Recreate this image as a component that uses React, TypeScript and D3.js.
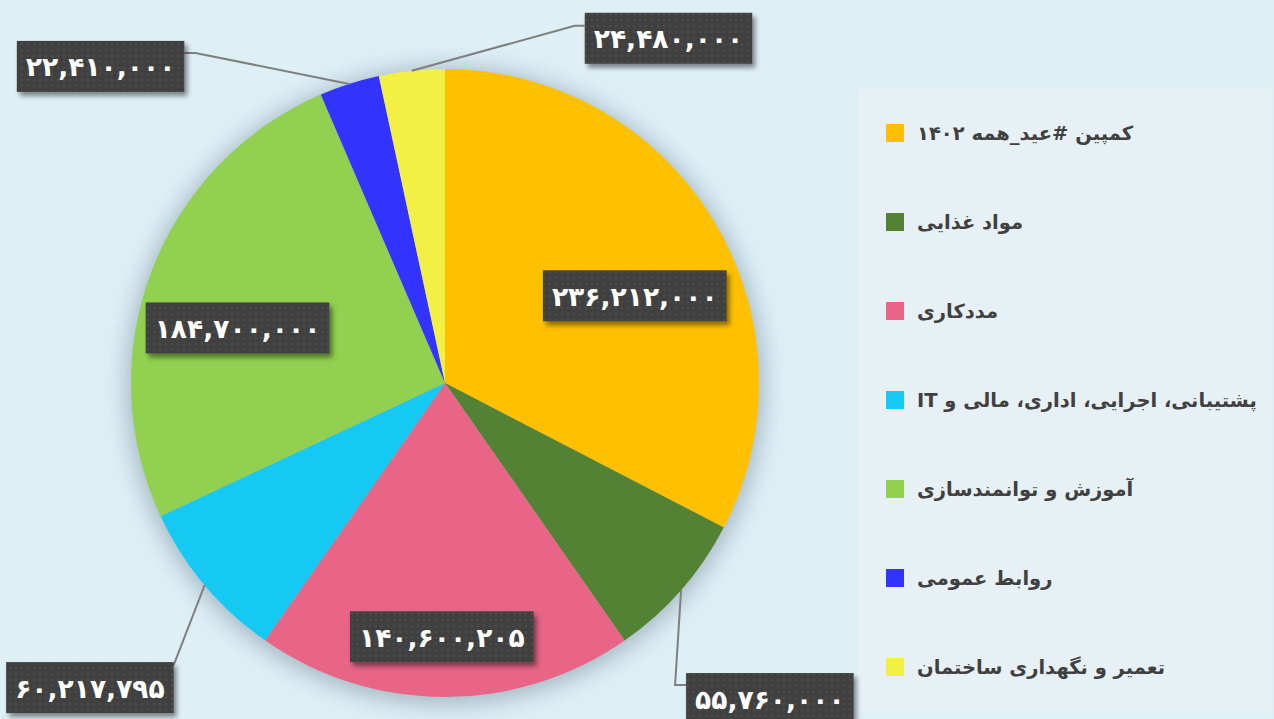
import * as d3 from 'd3'
import { useLayoutEffect, useRef, useState } from 'react'

const width = 1274
const height = 719

// slices, clockwise from 12 o'clock
const categories = [
  'کمپین #عید_همه ۱۴۰۲',
  'مواد غذایی',
  'مددکاری',
  'پشتیبانی، اجرایی، اداری، مالی و IT',
  'آموزش و توانمندسازی',
  'روابط عمومی',
  'تعمیر و نگهداری ساختمان'
]
const amounts = [236212000, 55760000, 140600205, 60217795, 184700000, 22410000, 24480000]
const colors = ['#FFC000', '#548235', '#E86588', '#16C9F2', '#92D050', '#3333FF', '#F2F044']

const persian = d3.formatLocale({
  decimal: '.',
  thousands: ',',
  grouping: [3],
  currency: ['', ''],
  numerals: ['۰', '۱', '۲', '۳', '۴', '۵', '۶', '۷', '۸', '۹']
})
const fmt = persian.format(',')

const cx = 445
const cy = 383
const radius = 314

// where each value label goes: inside labels shift from the 0.7r centroid,
// outside labels hang off the rim with a leader line
const labelPlacement = [
  { inside: true, shift: [2, 27] },
  { inside: false, elbow: [-6, 95], end: [5, 95], side: 'left', top: 83 },
  { inside: true, shift: [-3, 34] },
  { inside: false, end: [-31, 80], side: 'right', top: 77 },
  { inside: true, shift: [-2, 23] },
  { inside: false, elbow: [-154, -31], end: [-165, -31], side: 'right', top: -43 },
  { inside: false, elbow: [163, -45], end: [173, -45], side: 'left', top: -58 }
]

const boxH = 51
const labelFont = 'DejaVu Sans, sans-serif'

function App() {
  const textRefs = useRef<(SVGTextElement | null)[]>([])
  const [widths, setWidths] = useState<number[]>(amounts.map(() => 150))

  useLayoutEffect(() => {
    setWidths(textRefs.current.map(t => (t ? t.getComputedTextLength() : 150)))
  }, [])

  const pie = d3.pie<number>().sort(null).value(d => d)
  const arcs = pie(amounts)
  const arcGen = d3.arc<d3.PieArcDatum<number>>().innerRadius(0).outerRadius(radius)
  const labelArc = d3.arc<d3.PieArcDatum<number>>().innerRadius(radius * 0.7).outerRadius(radius * 0.7)
  const rimArc = d3.arc<d3.PieArcDatum<number>>().innerRadius(radius).outerRadius(radius)

  const legendY = d3.scalePoint<number>()
    .domain(d3.range(categories.length))
    .range([133, 667])

  return (
    <svg width={width} height={height} style={{ position: 'fixed', left: 0, top: 0, display: 'block' }}>
      <defs>
        <pattern id="dots" width={6} height={6} patternUnits="userSpaceOnUse">
          <rect width={6} height={6} fill="#404040" />
          <rect x={2} y={2} width={2} height={2} fill="#4e4e4e" />
        </pattern>
        <filter id="boxShadow" x="-20%" y="-30%" width="150%" height="180%">
          <feDropShadow dx={3} dy={4} stdDeviation={2.5} floodColor="#000" floodOpacity={0.45} />
        </filter>
        <filter id="pieGlow" x="-20%" y="-20%" width="140%" height="140%">
          <feGaussianBlur stdDeviation={12} />
        </filter>
      </defs>

      <rect width={width} height={height} fill="#DEEFF6" />

      {/* legend panel */}
      <rect x={858} y={89} width={413} height={624} fill="#E7F0F5" />
      {categories.map((c, i) => (
        <g key={c} transform={`translate(0, ${legendY(i)})`}>
          <rect x={886} y={-9} width={18} height={18} fill={colors[i]} />
          <text
            x={917}
            y={7}
            direction="rtl"
            textAnchor="end"
            fontFamily={labelFont}
            fontWeight="bold"
            fontSize={19.5}
            fill="#404040"
          >{c}</text>
        </g>
      ))}

      <g transform={`translate(${cx}, ${cy})`}>
        <circle r={radius + 4} cy={3} fill="#6f8794" opacity={0.55} filter="url(#pieGlow)" />
        {arcs.map((a, i) => (
          <path key={i} d={arcGen(a) || ''} fill={colors[i]} />
        ))}

        {arcs.map((a, i) => {
          const p = labelPlacement[i]
          const w = widths[i] + 18
          let bx = 0
          let by = 0
          let line = null
          if (p.inside) {
            const [lx, ly] = labelArc.centroid(a)
            bx = lx + p.shift![0] - w / 2
            by = ly + p.shift![1] - boxH / 2
          } else {
            const [ax, ay] = rimArc.centroid(a)
            const pts: [number, number][] = [[ax, ay]]
            if (p.elbow) pts.push([ax + p.elbow[0], ay + p.elbow[1]])
            pts.push([ax + p.end![0], ay + p.end![1]])
            line = <path d={d3.line()(pts) || ''} fill="none" stroke="#7f7f7f" strokeWidth={2} />
            const edge = ax + p.end![0]
            bx = p.side === 'left' ? edge : edge - w
            by = ay + p.top!
          }
          return (
            <g key={`label-${i}`}>
              {line}
              <rect x={bx} y={by} width={w} height={boxH} fill="url(#dots)" filter="url(#boxShadow)" />
              <text
                ref={el => { textRefs.current[i] = el }}
                x={bx + w / 2}
                y={by + boxH / 2 + 10}
                textAnchor="middle"
                fontFamily={labelFont}
                fontWeight="bold"
                fontSize={26.5}
                fill="#fff"
              >{fmt(amounts[i])}</text>
            </g>
          )
        })}
      </g>
    </svg>
  )
}

export default App
